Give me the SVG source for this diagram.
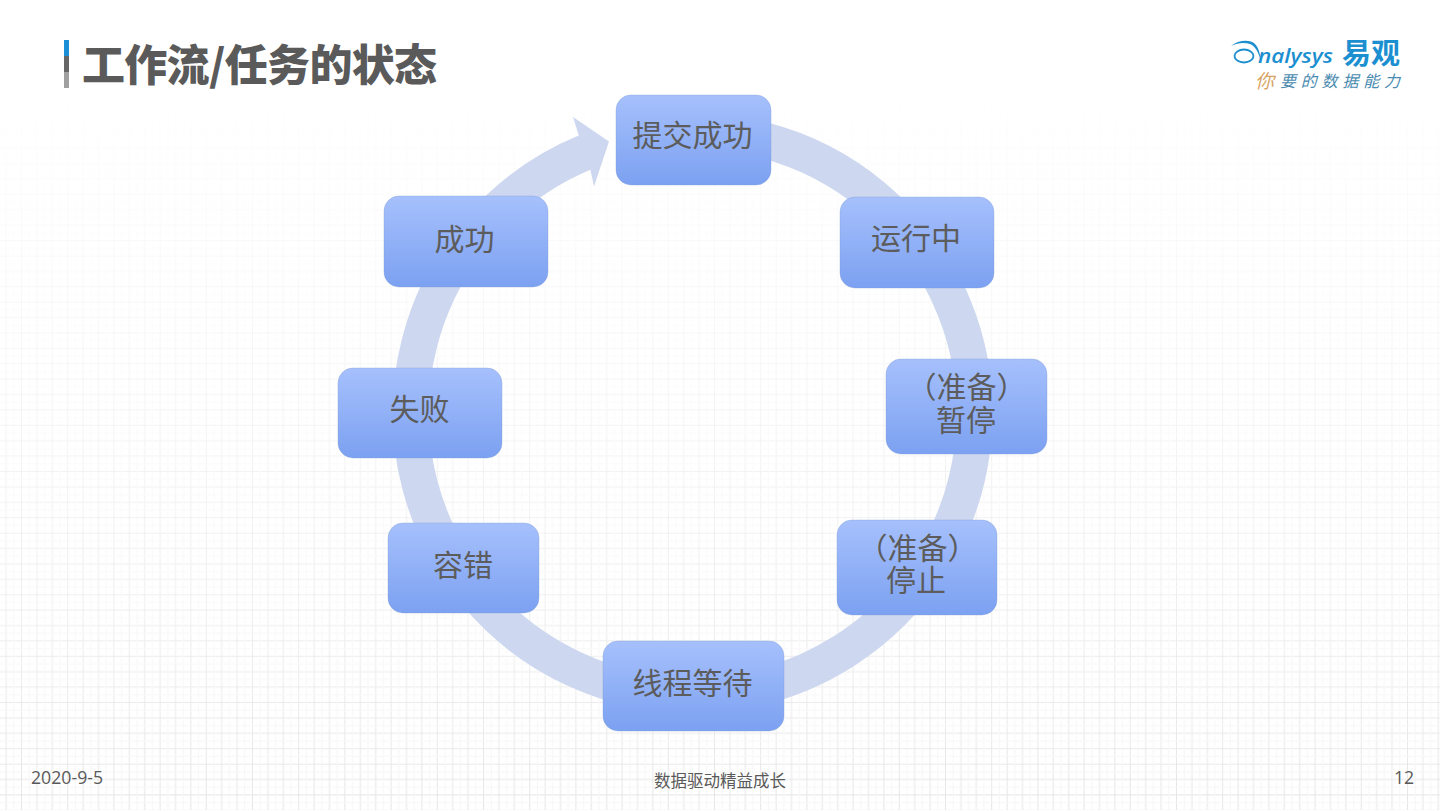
<svg xmlns="http://www.w3.org/2000/svg" width="1440" height="810" viewBox="0 0 1440 810">
<style>
text{font-family:"Noto Sans CJK SC","Noto Sans",sans-serif}
.box{fill:url(#g);stroke:#7f9bd0;stroke-opacity:.35;stroke-width:1}
.lb{font-size:30px;fill:#5c5c5c;text-anchor:middle}
.ft{font-size:17.700px;fill:#595959;font-family:"Open Sans","Noto Sans CJK SC",sans-serif}
.cn{font-size:16.500px;fill:#595959;text-anchor:middle}
</style>
<defs>
<linearGradient id="g" x1="0" y1="0" x2="0" y2="1"><stop offset="0" stop-color="#a6c0fc"/><stop offset="1" stop-color="#7ca1f1"/></linearGradient>
<linearGradient id="fade" x1="0" y1="0" x2="0" y2="1"><stop offset="0" stop-color="#fff" stop-opacity="1"/><stop offset=".12" stop-color="#fff" stop-opacity=".85"/><stop offset=".75" stop-color="#fff" stop-opacity=".3"/><stop offset="1" stop-color="#fff" stop-opacity="0"/></linearGradient>
<pattern id="grid" width="46.200" height="46.200" patternUnits="userSpaceOnUse" x="21" y="9">
<path d="M0 .5H46.200M0 15.900H46.200M0 31.300H46.200M.5 0V46.200M15.900 0V46.200M31.300 0V46.200" fill="none" stroke="#e6e6e6" stroke-width="1"/>
<path d="M0 8.200H46.200M0 23.600H46.200M0 39H46.200M8.200 0V46.200M23.600 0V46.200M39 0V46.200" fill="none" stroke="#f6f6f6" stroke-width="1"/>
</pattern>
</defs>
<rect width="1440" height="810" fill="#fff"/>
<rect y="90" width="1440" height="720" fill="url(#grid)"/>
<rect y="90" width="1440" height="720" fill="url(#fade)"/>
<g id="title">
<rect x="64" y="40" width="5" height="16" fill="#1b8fd6"/><rect x="64" y="56" width="5" height="16" fill="#666"/><rect x="64" y="72" width="5" height="16" fill="#a0a0a0"/>
<text x="82" y="81" font-weight="900" fill="#5a5a5a" style="font-size:43px" textLength="355">工作流/任务的状态</text>
</g>
<g id="logo">
<path d="M1231 46C1238 40 1250 39 1255 44C1260 49 1260 57 1262 64C1259 55 1257 47 1250 44C1244 42 1237 43 1231 46Z" fill="#1b8fd0"/>
<ellipse cx="1244" cy="56" rx="9.500" ry="6.500" fill="none" stroke="#1b8fd0" stroke-width="1.800"/>
<text x="1258" y="63" font-size="19" font-style="italic" font-weight="600" fill="#1b8fd0" style="font-family:'Open Sans',sans-serif" textLength="75" lengthAdjust="spacingAndGlyphs">nalysys</text>
<text x="1342" y="64" font-size="29" font-weight="700" fill="#1b8fd0" textLength="58" lengthAdjust="spacingAndGlyphs">易观</text>
<text x="1255" y="88" font-size="19" fill="#d8a566" font-style="italic">你</text>
<text x="1280" y="87" font-size="16" fill="#4a8bb0" font-style="italic" textLength="120">要的数据能力</text>
</g>
<g id="connectors">
<path d="M763 140A282 282 0 1 1 586 152" fill="none" stroke="#cdd8f0" stroke-width="36"/>
<path d="M609 141.500L573 117L578 133L590 168L594 186.500Z" fill="#cdd8f0"/>
</g>
<g id="n1"><rect class="box" x="616" y="95" width="155" height="90" rx="15"/><text class="lb" x="692.500" y="146">提交成功</text></g>
<g id="n2"><rect class="box" x="840" y="197" width="154" height="91" rx="15"/><text class="lb" x="916" y="249">运行中</text></g>
<g id="n3"><rect class="box" x="886" y="359" width="161" height="95" rx="15"/><text class="lb"><tspan x="966.500" y="398">（准备）</tspan><tspan x="966" y="431">暂停</tspan></text></g>
<g id="n4"><rect class="box" x="837" y="520" width="160" height="95" rx="15"/><text class="lb"><tspan x="917.500" y="559">（准备）</tspan><tspan x="916" y="591">停止</tspan></text></g>
<g id="n5"><rect class="box" x="603" y="641" width="181" height="90" rx="15"/><text class="lb" x="692.500" y="694">线程等待</text></g>
<g id="n6"><rect class="box" x="388" y="523" width="151" height="90" rx="15"/><text class="lb" x="463" y="576">容错</text></g>
<g id="n7"><rect class="box" x="338" y="368" width="164" height="90" rx="15"/><text class="lb" x="419.500" y="420">失败</text></g>
<g id="n8"><rect class="box" x="384" y="196" width="164" height="91" rx="15"/><text class="lb" x="464.500" y="250">成功</text></g>
<g id="footer">
<text class="ft" x="31" y="784">2020-9-5</text>
<text class="cn" x="720" y="787">数据驱动精益成长</text>
<text class="ft" x="1394" y="784">12</text>
</g>
</svg>
